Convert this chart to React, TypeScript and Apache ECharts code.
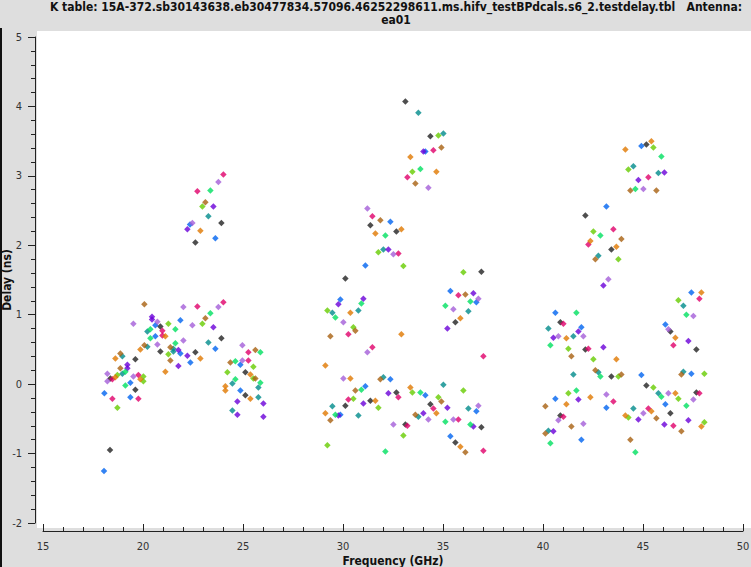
import React, { useEffect, useRef } from "react";
import * as echarts from "echarts";

const titleLine1 = "K table: 15A-372.sb30143638.eb30477834.57096.46252298611.ms.hifv_testBPdcals.s6_2.testdelay.tbl   Antenna:";
const titleLine2 = "ea01";
const xName = "Frequency (GHz)";
const yName = "Delay (ns)";

const black = [
  [23.92,2.32],[22.62,2.04],[20.87,0.83],[23.92,0.66],[20.87,0.47],[22.62,0.46],[19.62,0.36],[18.37,0.08],[19.62,-0.08],[25.12,0.17],[25.12,-0.16],[18.35,-0.95],
  [33.12,4.07],[34.37,3.57],[31.37,2.29],[32.67,2.20],[36.92,1.62],[35.62,0.89],[30.12,1.52],[30.12,-0.31],[31.37,-0.24],[32.67,-0.12],[34.37,-0.29],[33.12,-0.58],[36.92,-0.62],[35.62,-0.84],
  [45.17,3.45],[42.12,2.43],[43.42,1.94],[46.37,0.76],[47.67,0.50],[40.87,0.89],[42.12,0.50],[43.42,0.11],[45.17,-0.02],[47.67,-0.12],[46.37,-0.42],[40.87,-0.45],
];
const teal = [
  [23.27,2.42],[20.22,0.76],[23.27,0.60],[20.22,0.54],[21.52,0.51],[21.52,0.47],[18.97,0.40],[18.97,0.15],[24.47,0.01],[25.77,-0.05],[25.77,-0.19],[24.47,-0.38],
  [33.77,3.91],[35.02,3.61],[32.02,1.94],[36.27,1.05],[29.47,1.03],[30.77,1.06],[32.02,0.10],[29.47,-0.32],[30.77,-0.45],[35.02,-0.01],[33.77,-0.47],[36.27,-0.35],
  [44.52,3.14],[45.77,3.04],[42.77,1.85],[47.02,1.13],[40.27,0.80],[41.52,0.69],[42.77,0.17],[41.52,0.14],[47.02,0.18],[45.77,-0.13],[44.52,-0.35],[40.27,-0.67],
];
const lime = [
  [22.97,2.56],[21.27,0.87],[22.97,0.87],[21.27,0.43],[18.72,0.13],[20.02,0.11],[20.02,0.04],[18.72,-0.34],[25.52,0.25],[24.22,0.17],[25.52,0.08],
  [34.77,3.58],[33.47,3.06],[31.77,1.90],[33.02,1.70],[36.02,1.61],[29.22,1.06],[30.52,0.82],[30.52,-0.21],[31.77,-0.34],[33.47,-0.12],[34.77,-0.19],[33.02,-0.74],[29.22,-0.88],[36.02,-0.09],
  [45.52,3.41],[44.27,3.09],[42.52,2.20],[43.77,1.80],[46.77,1.21],[41.27,0.51],[42.52,0.36],[43.77,0.11],[48.07,0.15],[45.52,-0.05],[46.77,-0.21],[48.07,-0.55],[44.27,-0.48],[41.27,-0.13],
];
const crimson = [
  [24.02,3.02],[22.72,2.78],[22.72,1.12],[24.02,1.18],[20.97,0.77],[20.97,0.70],[18.47,0.07],[19.77,0.13],[19.77,-0.21],[18.47,-0.21],[25.27,0.34],[25.27,0.46],
  [34.52,3.37],[33.22,2.98],[31.47,2.42],[32.77,1.88],[35.77,1.28],[37.02,0.40],[30.27,0.72],[31.47,0.53],[30.27,-0.22],[32.77,-0.19],[34.52,-0.35],[33.22,-0.60],[35.77,-0.51],[37.02,-0.96],
  [45.27,2.98],[43.52,2.23],[42.27,2.01],[47.82,1.23],[46.52,0.56],[41.02,0.87],[42.27,0.51],[47.82,-0.13],[46.52,-0.60],[45.27,-0.35],[43.52,-0.25],[41.02,-0.47],
];
const blue = [
  [22.35,2.30],[23.62,2.10],[20.62,0.85],[21.87,0.92],[20.62,0.69],[23.62,0.51],[21.87,0.44],[22.37,0.31],[19.37,0.02],[18.07,-0.13],[19.37,-0.19],[24.87,0.28],[24.87,-0.09],[18.05,-1.25],
  [34.12,3.35],[32.37,2.34],[31.12,1.71],[35.37,1.34],[36.67,1.18],[29.87,1.22],[32.37,0.07],[31.12,-0.03],[29.87,-0.44],[34.12,-0.16],[36.67,-0.39],[35.37,-0.75],
  [44.92,3.43],[43.17,2.56],[47.42,1.32],[46.12,0.86],[40.62,1.03],[41.92,0.82],[44.92,0.13],[47.42,0.15],[46.12,-0.29],[43.17,-0.34],[40.62,-0.21],[41.92,-0.80],
];
const purple = [
  [23.52,2.56],[22.22,2.23],[20.45,0.97],[20.45,0.93],[23.52,0.82],[21.77,0.49],[22.22,0.41],[21.77,0.26],[19.22,0.28],[19.22,0.23],[24.72,-0.25],[26.02,-0.28],[24.72,-0.44],[26.02,-0.47],
  [34.02,3.35],[32.27,1.94],[35.22,0.80],[36.52,1.31],[29.77,1.15],[31.02,1.23],[29.77,-0.45],[31.02,-0.28],[32.27,-0.13],[35.22,-0.34],[34.02,-0.42],[36.52,-0.61],
  [46.07,3.05],[44.77,2.94],[43.02,1.42],[47.27,0.62],[41.77,0.76],[40.52,0.67],[43.02,0.53],[47.27,-0.52],[46.07,-0.58],[44.77,-0.51],[41.77,-0.22],[40.52,-0.68],
];
const orange = [
  [22.87,2.21],[21.12,0.69],[19.87,0.50],[22.87,0.37],[21.12,0.18],[18.62,0.37],[18.62,0.10],[19.87,0.07],[25.37,0.14],[24.12,-0.03],[24.12,-0.09],[25.37,-0.21],
  [33.37,3.27],[34.67,3.06],[31.62,2.17],[32.92,2.23],[35.87,0.95],[30.37,1.03],[32.92,0.72],[29.12,0.27],[30.37,0.08],[31.62,-0.24],[33.37,-0.05],[34.67,-0.42],[29.12,-0.42],[35.87,-0.90],
  [45.42,3.50],[44.12,3.38],[42.37,2.06],[43.67,1.98],[47.92,1.32],[46.62,0.67],[41.17,0.66],[43.67,0.36],[46.62,-0.13],[47.92,-0.61],[45.42,-0.39],[44.12,-0.45],[42.37,-0.19],[41.17,-0.29],
];
const brown = [
  [23.12,2.62],[20.07,1.15],[23.12,0.95],[20.07,0.56],[21.37,0.53],[21.37,0.34],[18.87,0.44],[18.87,0.23],[24.37,0.31],[25.62,0.49],[25.62,0.08],
  [34.92,3.41],[33.62,2.89],[31.87,2.36],[36.12,1.29],[30.62,0.77],[29.37,0.69],[31.87,0.07],[30.62,-0.09],[29.37,-0.52],[34.92,-0.25],[33.62,-0.44],[36.12,-0.98],
  [44.37,2.79],[45.67,2.79],[43.92,2.09],[42.62,1.80],[41.42,0.40],[42.62,0.20],[43.92,0.14],[46.92,0.14],[46.92,-0.68],[45.67,-0.49],[44.37,-0.80],[40.12,-0.32],[41.42,-0.61],[40.12,-0.71],
];
const lavender = [
  [23.77,2.91],[22.47,2.32],[22.02,1.11],[23.77,1.11],[20.72,0.90],[19.52,0.87],[22.47,0.85],[22.02,0.63],[20.72,0.57],[18.22,0.15],[18.22,0.04],[19.52,0.11],[24.97,0.34],[24.97,0.56],
  [34.27,2.83],[31.22,2.53],[32.52,1.87],[35.52,1.08],[36.77,1.23],[30.02,0.89],[31.22,0.46],[30.02,0.08],[32.52,-0.58],[34.27,-0.51],[35.52,-0.51],[36.77,-0.31],
  [45.02,2.81],[43.27,1.51],[47.52,0.98],[46.27,0.79],[40.77,0.69],[42.02,0.69],[46.27,-0.13],[47.52,-0.22],[45.02,-0.42],[43.17,-0.15],[40.77,-0.52],[42.02,-0.57],
];
const green = [
  [23.37,2.79],[23.37,1.02],[20.37,0.79],[21.62,0.79],[20.37,0.66],[21.62,0.59],[19.12,0.18],[19.12,-0.02],[24.62,0.33],[25.87,0.46],[24.62,0.07],[25.87,0.02],
  [33.87,3.10],[32.12,2.14],[36.37,1.19],[35.12,1.13],[30.92,1.16],[29.62,0.96],[30.92,-0.08],[29.62,-0.44],[33.87,-0.12],[35.12,-0.54],[36.37,-0.58],[32.12,-0.97],
  [45.92,3.28],[44.62,2.81],[42.87,2.14],[47.17,1.00],[41.67,1.03],[40.37,0.56],[42.87,0.11],[45.92,-0.18],[47.17,-0.31],[41.67,-0.09],[44.62,-0.98],[40.37,-0.85],
];

const groups: [string, number[][], string][] = [
  ["black", black, "#222222"],
  ["teal", teal, "#008b8b"],
  ["lime", lime, "#66cc00"],
  ["crimson", crimson, "#e0006a"],
  ["blue", blue, "#0064f0"],
  ["purple", purple, "#6a00d8"],
  ["orange", orange, "#e07800"],
  ["brown", brown, "#a86010"],
  ["lavender", lavender, "#a45ed8"],
  ["green", green, "#00e060"],
];

export default function App() {
  const ref = useRef<HTMLDivElement>(null);
  useEffect(() => {
    if (!ref.current) return;
    const chart = echarts.init(ref.current, undefined, { renderer: "svg" });
    const font = "'DejaVu Sans Condensed', 'DejaVu Sans', sans-serif";
    chart.setOption({
      animation: false,
      backgroundColor: "#dedede",
      graphic: [
        { type: "rect", z: -10, shape: { x: 37, y: 31, width: 714, height: 497 }, style: { fill: "#ffffff" }, silent: true },
        { type: "rect", z: -10, shape: { x: 0, y: 28, width: 2, height: 539 }, style: { fill: "#111111" }, silent: true },
        {
          type: "text", x: 396, y: 7,
          style: { text: titleLine1, font: "bold 12px " + font, fill: "#111", textAlign: "center", textVerticalAlign: "middle" },
        },
        {
          type: "text", x: 396, y: 19.5,
          style: { text: titleLine2, font: "bold 12px " + font, fill: "#111", textAlign: "center", textVerticalAlign: "middle" },
        },
      ],
      grid: { left: 43, right: 8, top: 37, bottom: 44, containLabel: false, outerBoundsMode: "none" },
      xAxis: {
        type: "value",
        min: 15,
        max: 50,
        interval: 5,
        offset: 8,
        name: xName,
        nameLocation: "middle",
        nameGap: 24,
        nameMoveOverlap: false,
        nameTextStyle: { fontFamily: font, fontWeight: "bold", fontSize: 12, color: "#111", verticalAlign: "top" },
        axisLine: { show: true, onZero: false, lineStyle: { color: "#222", width: 1 } },
        axisTick: { show: true, inside: true, length: 7, lineStyle: { color: "#222" } },
        minorTick: { show: true, splitNumber: 5, length: 4, lineStyle: { color: "#222" } },
        axisLabel: { fontFamily: font, fontSize: 11, color: "#333", margin: 10 },
        splitLine: { show: false },
      },
      yAxis: {
        type: "value",
        min: -2,
        max: 5,
        interval: 1,
        offset: 8,
        name: yName,
        nameLocation: "middle",
        nameGap: 22,
        nameMoveOverlap: false,
        nameTextStyle: { fontFamily: font, fontWeight: "bold", fontSize: 12, color: "#111" },
        axisLine: { show: true, onZero: false, lineStyle: { color: "#222", width: 1 } },
        axisTick: { show: true, inside: false, length: 7, lineStyle: { color: "#222" } },
        minorTick: { show: true, splitNumber: 5, length: 4, lineStyle: { color: "#222" } },
        axisLabel: { fontFamily: font, fontSize: 11, color: "#333", margin: 13 },
        splitLine: { show: false },
      },
      series: groups.map(([name, data, color]) => ({
        name,
        type: "scatter",
        data,
        symbol: "diamond",
        symbolSize: 6.5,
        itemStyle: { color },
      })),
    });
    return () => chart.dispose();
  }, []);
  return <div ref={ref} style={{ position: "fixed", left: 0, top: 0, width: 751, height: 567 }} />;
}
